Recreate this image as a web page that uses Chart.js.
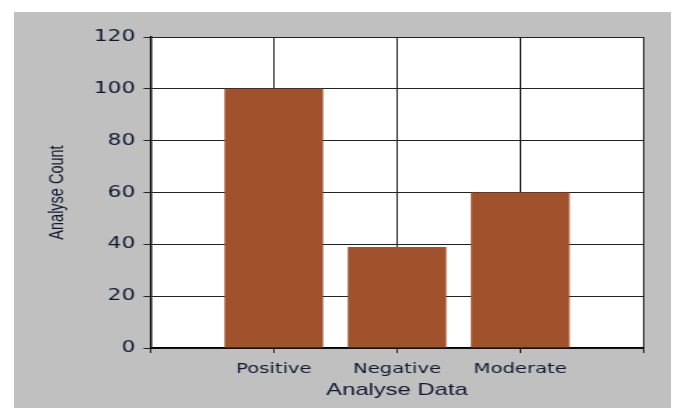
<!DOCTYPE html>
<html>
<head>
<meta charset="utf-8">
<script src="https://cdn.jsdelivr.net/npm/chart.js@4.4.1/dist/chart.umd.min.js"></script>
<style>
    html, body { margin: 0; padding: 0; background: #ffffff; }
    #box {
        position: absolute; left: 14px; top: 12px;
        width: 657px; height: 396px;
        background: #c0c0c0; overflow: hidden;
    }
    /* the original picture is stretched sideways, so the chart is too */
    #wrap {
        position: absolute; left: 0; top: 0;
        width: 469px; height: 396px;
        transform: scaleX(1.4009); transform-origin: 0 0;
    }
</style>
</head>
<body>
<div id="box">
    <div id="wrap"><canvas id="chart"></canvas></div>
</div>
<script>
// Datos
const categories = ['', 'Positive', 'Negative', 'Moderate', ''];
const counts = [null, 100, 39, 60, null];
const yMin = 0;
const yMax = 120;
const yStep = 20;

const textColor = '#101830';
const gridColor = '#222222';

// fondo blanco solo dentro del area del grafico
const plotBackground = {
    id: 'plotBackground',
    beforeDraw(chart) {
        const { ctx, chartArea: a } = chart;
        ctx.save();
        ctx.fillStyle = '#ffffff';
        ctx.fillRect(a.left, a.top, a.right - a.left, a.bottom - a.top);
        ctx.restore();
    }
};

const ctx = document.getElementById('chart').getContext('2d');

new Chart(ctx, {
    type: 'bar',
    data: {
        labels: categories,
        datasets: [{
            label: 'Analyse Count',
            data: counts,
            backgroundColor: '#a0522d',
            borderWidth: 0,
            barPercentage: 0.8,
            categoryPercentage: 1
        }]
    },
    options: {
        responsive: true,
        maintainAspectRatio: false,
        animation: false,
        layout: { padding: { left: 0, top: 25, right: 19.7, bottom: 0 } },
        plugins: {
            legend: { display: false },
            tooltip: { enabled: false }
        },
        scales: {
            x: {
                type: 'category',
                offset: false,
                grid: { offset: false, color: gridColor, lineWidth: 1, tickLength: 5 },
                border: { color: '#000000', width: 1.5 },
                ticks: {
                    color: textColor,
                    font: { family: 'DejaVu Sans', size: 14 },
                    padding: 8,
                    maxRotation: 0,
                    autoSkip: false
                },
                title: {
                    display: true,
                    text: 'Analyse Data',
                    color: textColor,
                    font: { family: 'Liberation Sans', size: 17 },
                    padding: { top: 0, bottom: 7 }
                },
                afterFit(scale) { scale.height = 60; }
            },
            y: {
                min: yMin,
                max: yMax,
                grid: { color: gridColor, lineWidth: 1, tickLength: 5 },
                border: { color: '#000000', width: 1.5 },
                ticks: {
                    stepSize: yStep,
                    color: textColor,
                    font: { family: 'DejaVu Sans', size: 15.5 },
                    padding: 6
                },
                title: {
                    display: true,
                    text: 'Analyse Count',
                    color: textColor,
                    font: { family: 'Liberation Sans', size: 14.5 },
                    padding: { top: 22.7, bottom: 0 }
                },
                afterFit(scale) { scale.width = 97.5; }
            }
        }
    },
    plugins: [plotBackground]
});
</script>
</body>
</html>
